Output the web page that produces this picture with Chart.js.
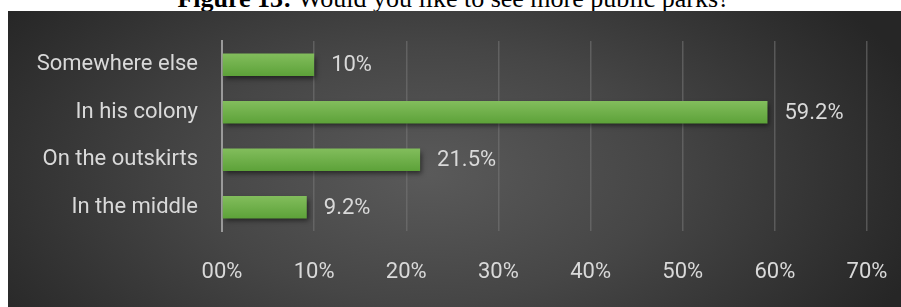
<!DOCTYPE html>
<html>
<head>
<meta charset="utf-8">
<script src="https://cdn.jsdelivr.net/npm/chart.js@4.4.1/dist/chart.umd.min.js"></script>
<style>
  html, body { margin: 0; padding: 0; background: #fff; overflow: hidden; }
  body { width: 901px; height: 307px; position: relative; }
  #title {
    position: absolute; left: 3px; top: -14px; width: 901px;
    text-align: center; font-family: "Liberation Serif", serif;
    font-size: 26px; line-height: 26px; color: #000; white-space: nowrap;
  }
  #box {
    position: absolute; left: 8px; top: 11px; width: 893px; height: 296px;
    background: radial-gradient(ellipse 58% 95% at 47% 55%, #5a5a5a 0%, #464646 45%, #262626 100%);
  }
</style>
</head>
<body>
<div id="title"><b>Figure 13:</b> Would you like to see more public parks?</div>
<div id="box"><canvas id="parksChart" width="893" height="296"></canvas></div>
<script>
const categories = ["Somewhere else", "In his colony", "On the outskirts", "In the middle"];
const percentages = [10, 59.2, 21.5, 9.2];
const tickValues = [0, 10, 20, 30, 40, 50, 60, 70];

const textColor = "#d9d9d9";
const labelFont = { family: "Roboto", size: 22 };

// ombre sous les barres
const barShadow = {
    id: "barShadow",
    beforeDatasetsDraw(chart) {
        const ctx = chart.ctx;
        ctx.save();
        ctx.shadowColor = "rgba(0,0,0,0.55)";
        ctx.shadowBlur = 5;
        ctx.shadowOffsetX = 2;
        ctx.shadowOffsetY = 3;
    },
    afterDatasetsDraw(chart) {
        chart.ctx.restore();
    }
};

// étiquettes de valeur au bout des barres
const valueLabels = {
    id: "valueLabels",
    afterDatasetsDraw(chart) {
        const ctx = chart.ctx;
        const meta = chart.getDatasetMeta(0);
        ctx.save();
        ctx.fillStyle = textColor;
        ctx.font = `${labelFont.size}px ${labelFont.family}`;
        ctx.textAlign = "left";
        ctx.textBaseline = "middle";
        meta.data.forEach((bar, i) => {
            ctx.fillText(percentages[i] + "%", bar.x + 17, bar.y + 1);
        });
        ctx.restore();
    }
};

function noScalePadding(scale) {
    scale.paddingTop = 0;
    scale.paddingBottom = 0;
    scale.paddingLeft = 0;
    scale.paddingRight = 0;
}

const ctx = document.getElementById("parksChart").getContext("2d");

function barGradient(context) {
    const chart = context.chart;
    const yScale = chart.scales && chart.scales.y;
    if (!chart.chartArea || !yScale) return "#6aab45";
    const cy = yScale.getPixelForValue(context.dataIndex);
    if (!Number.isFinite(cy)) return "#6aab45";
    const g = chart.ctx.createLinearGradient(0, cy - 11, 0, cy + 11);
    g.addColorStop(0, "#82bd5c");
    g.addColorStop(1, "#5da239");
    return g;
}

new Chart(ctx, {
    type: "bar",
    data: {
        labels: categories,
        datasets: [{
            data: percentages,
            backgroundColor: barGradient,
            borderWidth: 0,
            barPercentage: 0.47,
            categoryPercentage: 1.0,
        }],
    },
    plugins: [barShadow, valueLabels],
    options: {
        indexAxis: "y",
        responsive: false,
        animation: false,
        events: [],
        layout: { padding: { top: 30, right: 34, left: 0, bottom: 0 } },
        plugins: {
            legend: { display: false },
            tooltip: { enabled: false },
            title: { display: false },
        },
        scales: {
            x: {
                min: 0,
                max: 70,
                afterBuildTicks: (scale) => {
                    scale.ticks = tickValues.map(v => ({ value: v }));
                },
                afterFit: (scale) => { scale.height = 76; noScalePadding(scale); },
                grid: {
                    color: "rgba(120,120,120,0.55)",
                    lineWidth: 1.5,
                    drawTicks: false,
                },
                border: { display: false },
                ticks: {
                    color: textColor,
                    font: labelFont,
                    padding: 28,
                    maxRotation: 0,
                    callback: (v) => (v === 0 ? "00" : v) + "%",
                },
            },
            y: {
                afterFit: (scale) => { scale.width = 214; noScalePadding(scale); },
                grid: { display: false, drawTicks: false },
                border: { display: true, color: "#9a9a9a", width: 2 },
                ticks: {
                    color: textColor,
                    font: labelFont,
                    padding: 24,
                },
            },
        },
    },
});
</script>
</body>
</html>
